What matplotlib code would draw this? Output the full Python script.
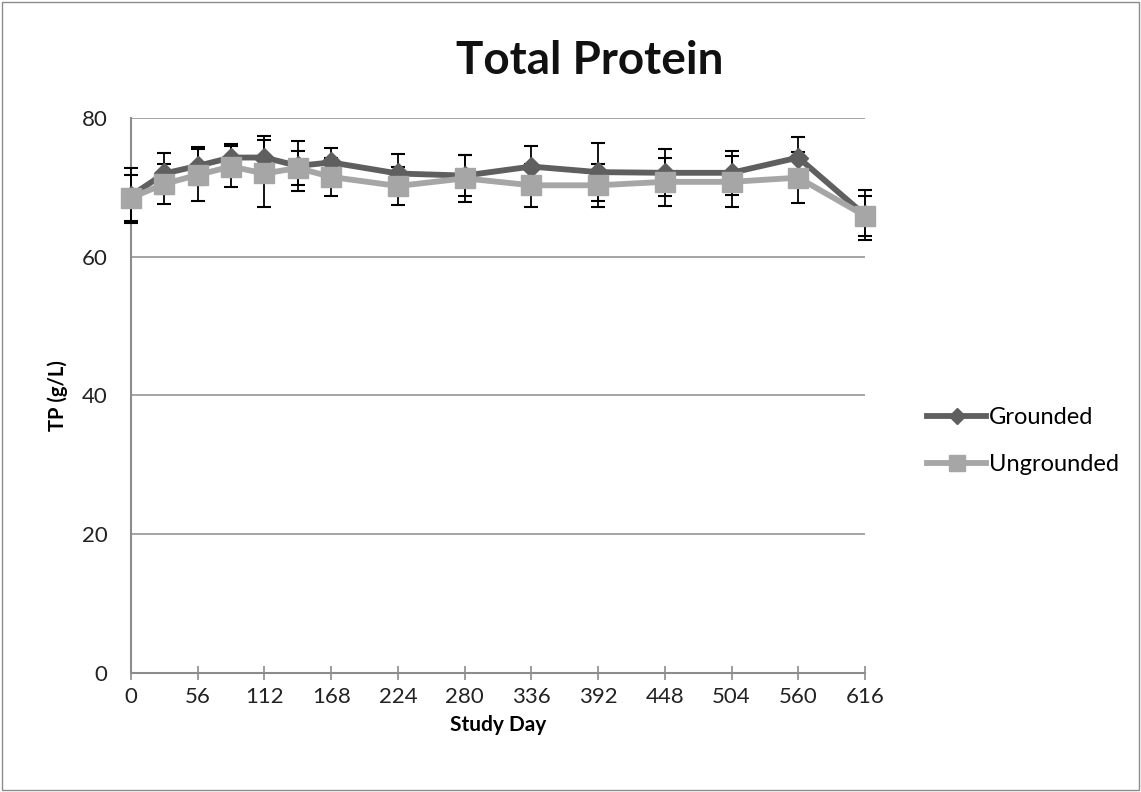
import matplotlib
matplotlib.use("Agg")
import matplotlib.pyplot as plt
from matplotlib.patches import Rectangle

plt.rcParams['font.family'] = ['Lato', 'DejaVu Sans']

days = [0, 28, 56, 84, 112, 140, 168, 224, 280, 336, 392, 448, 504, 560, 616]
grounded = [68.8, 72.0, 73.1, 74.3, 74.3, 73.1, 73.6, 72.0, 71.7, 73.0, 72.2, 72.1, 72.1, 74.3, 66.0]
grounded_err = [4.0, 2.9, 2.75, 2.0, 3.1, 3.6, 2.1, 2.8, 3.0, 3.0, 4.2, 3.4, 3.2, 2.9, 3.6]
ungrounded = [68.5, 70.5, 71.8, 73.0, 72.0, 72.8, 71.5, 70.2, 71.3, 70.3, 70.3, 70.8, 70.8, 71.4, 65.9]
ungrounded_err = [3.3, 2.9, 3.8, 2.9, 4.9, 2.5, 2.7, 2.8, 3.4, 3.1, 3.1, 3.5, 3.7, 3.7, 2.9]
xticks = [0, 56, 112, 168, 224, 280, 336, 392, 448, 504, 560, 616]
yticks = [0, 20, 40, 60, 80]

W, H = 1141, 792
fig = plt.figure(figsize=(W/100, H/100), dpi=100)
fig.patches.append(Rectangle((0.002, 0.002), 0.996, 0.996, transform=fig.transFigure,
                             fill=False, edgecolor='#8c8c8c', linewidth=1.0))

ax = fig.add_axes([131/W, 1-673/H, (865-131)/W, (673-118)/H])

dark = '#5f5f5f'
light = '#a6a6a6'

ax.errorbar(days, grounded, yerr=grounded_err, fmt='none', ecolor='black',
            elinewidth=1.3, capsize=5, capthick=1.5, zorder=3, clip_on=False)
ax.errorbar(days, ungrounded, yerr=ungrounded_err, fmt='none', ecolor='black',
            elinewidth=1.3, capsize=5, capthick=1.5, zorder=3, clip_on=False)
lg, = ax.plot(days, grounded, color=dark, linewidth=4.2, marker='D', markersize=10,
              markerfacecolor=dark, markeredgecolor=dark, label='Grounded', zorder=4, clip_on=False)
lu, = ax.plot(days, ungrounded, color=light, linewidth=4.2, marker='s', markersize=14,
              markerfacecolor=light, markeredgecolor=light, label='Ungrounded', zorder=5, clip_on=False)

ax.set_xlim(0, 616)
ax.set_ylim(0, 80)
ax.set_xticks(xticks)
ax.set_yticks(yticks)
ax.set_xticklabels([str(t) for t in xticks], fontsize=16)
ax.set_yticklabels([str(t) for t in yticks], fontsize=16)
ax.yaxis.grid(True, color='#8c8c8c', linewidth=1.1)
ax.set_axisbelow(True)
for s in ['top', 'right']:
    ax.spines[s].set_visible(False)
for s in ['left', 'bottom']:
    ax.spines[s].set_color('#8c8c8c')
    ax.spines[s].set_linewidth(1.5)
ax.tick_params(axis='x', direction='inout', length=10, width=1.2, color='#8c8c8c', pad=5, labelcolor='#222222')
ax.tick_params(axis='y', length=0, pad=17, labelcolor='#222222')

ax.set_xlabel('Study Day', fontsize=15, fontweight='bold', labelpad=6)
ax.set_ylabel('TP (g/L)', fontsize=14.5, fontweight='bold', labelpad=10)

fig.text(590/W, 1-61/H, 'Total Protein', fontsize=33, fontweight='bold',
         ha='center', va='center', color='#111111')

fig.legend(handles=[lg, lu], loc='center left', bbox_to_anchor=(906/W, 1-441/H),
           frameon=False, fontsize=17, handlelength=2.5, handletextpad=0.1,
           labelspacing=1.1, markerscale=0.85)

fig.savefig('out.png', dpi=100)
